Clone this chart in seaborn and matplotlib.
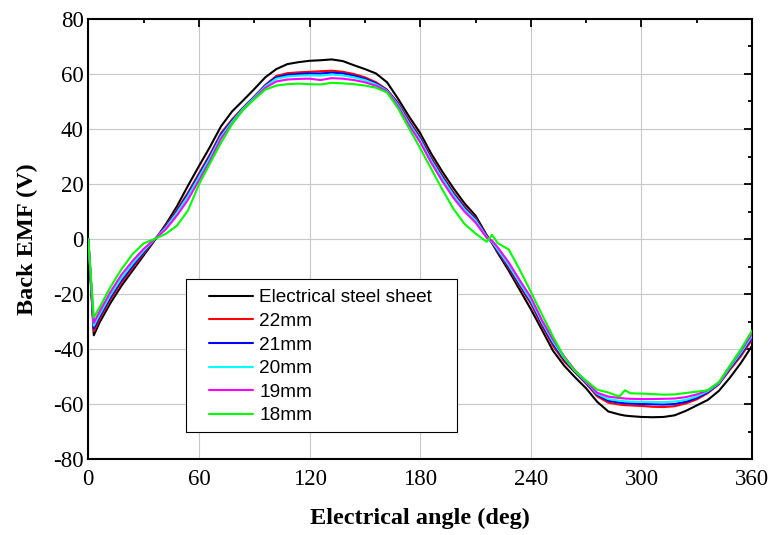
import matplotlib
matplotlib.use("Agg")
import matplotlib.pyplot as plt
from matplotlib.patches import Rectangle
from matplotlib.ticker import MultipleLocator
import numpy as np
import pandas as pd
import seaborn as sns

# Electrical angle samples (deg)
angle = [0, 3, 6, 12, 18, 24, 30, 36, 42, 48, 54, 60, 66, 72, 78, 84, 90, 96,
         102, 108, 114, 120, 126, 132, 138, 144, 150, 156, 162, 168, 174, 180,
         186, 192, 198, 204, 210, 216, 219, 222, 228, 234, 240, 246, 252, 258,
         264, 270, 276, 282, 288, 291, 294, 300, 306, 312, 318, 324, 330, 336,
         342, 348, 354, 360]

# Back EMF (V) per core variant
emf_steel = [0, -35, -30.5, -23.3, -17, -11.5, -6, -0.5, 5.3, 11.8, 19.3, 26.5,
             33.5, 41, 46.4, 50.4, 54.5, 58.8, 61.8, 63.6, 64.3, 64.8, 65, 65.3,
             64.7, 63.2, 61.8, 60.2, 57, 51, 44.5, 38.5, 31, 24.5, 18.5, 13, 8.5,
             1.5, -1.5, -5, -11.5, -18.5, -25.5, -33, -40.6, -46, -50.3, -54.3,
             -59.2, -62.7, -63.8, -64.2, -64.4, -64.7, -64.8, -64.7, -64.1, -62.5,
             -60.5, -58.5, -55.2, -50.4, -45, -38.8]
emf_22 = [0, -33.5, -29.2, -22, -15.8, -10.5, -5.3, -0.3, 4.7, 10.5, 16.8, 23.8,
          30.8, 38.5, 43.5, 47.8, 51.8, 56, 59.3, 60.3, 60.6, 60.8, 61, 61.2,
          60.8, 60, 58.8, 57, 54.3, 49.5, 43, 37, 29.5, 23, 17, 11.8, 7.6, 1.2,
          -1.3, -4.5, -10.5, -17.2, -23.5, -31.5, -38.8, -44.5, -48.5, -52.6,
          -57.2, -59.5, -60.2, -60.4, -60.5, -60.7, -61, -61.1, -60.8, -59.8,
          -58.3, -56, -52.8, -47.5, -42.5, -36.5]
emf_21 = [0, -32.5, -28.4, -21.2, -15, -9.8, -4.8, -0.2, 4.4, 10, 16.2, 23.2,
          30.2, 38, 43, 47.6, 51.6, 55.8, 58.8, 59.7, 60, 60.2, 60.2, 60.5, 60.2,
          59.4, 58.3, 56.6, 54.1, 49.2, 42.5, 36.5, 29, 22.5, 16.5, 11.3, 7.2, 1,
          -1.2, -4.2, -10, -16.6, -22.8, -30.8, -38, -43.8, -48.3, -52.3, -56.7,
          -58.8, -59.5, -59.7, -59.8, -60, -60.1, -60.2, -60, -59.2, -57.8,
          -55.7, -52.6, -47, -41.8, -35.8]
emf_20 = [0, -31.5, -27.6, -20.4, -14.2, -9, -4.3, -0.1, 4.1, 9.5, 15.5, 22.5,
          29.5, 37.3, 42.6, 47.4, 51.4, 55.5, 58.3, 59.1, 59.4, 59.5, 59.4, 59.8,
          59.5, 58.8, 57.8, 56.2, 53.9, 48.8, 42, 36, 28.5, 22, 16, 10.8, 6.8,
          0.8, -1, -3.8, -9.5, -16, -22.2, -30.2, -37.3, -43.2, -48, -52, -56.3,
          -58.2, -58.8, -59, -59.1, -59.2, -59.3, -59.3, -59.1, -58.5, -57.2,
          -55.3, -52.4, -46.6, -41.2, -35.2]
emf_19 = [0, -30.5, -26.5, -19.3, -13, -8, -3.6, 0, 3.5, 8.5, 14.2, 21.3, 28.5,
          36.5, 42, 47, 51, 55, 57.3, 58, 58.2, 58.3, 57.8, 58.5, 58.3, 57.8, 57,
          55.7, 53.7, 48.3, 41.3, 35.2, 27.7, 21, 15, 10, 6, 0.5, -0.6, -3, -8.5,
          -15, -21.2, -29.5, -36.5, -42.6, -47.8, -51.8, -55.9, -57.3, -57.8,
          -58, -58.1, -58.2, -58.2, -58.1, -58, -57.5, -56.5, -55, -52.2, -46.2,
          -40.5, -34.5]
emf_18 = [0, -28.5, -25, -17.5, -11, -5.5, -1.6, 0, 1.9, 4.8, 10.3, 19.8, 27.5,
          35, 41.8, 47, 50.8, 54.3, 55.8, 56.3, 56.5, 56.3, 56.2, 56.8, 56.6,
          56.3, 55.8, 55, 53.3, 47.5, 40.2, 33, 25.5, 18, 11, 5.5, 2, -1, 1.5,
          -1.5, -3.8, -11.2, -19.2, -27.4, -35.4, -43, -48, -51.5, -54.8, -55.8,
          -57.3, -55, -56.1, -56.2, -56.4, -56.6, -56.5, -56, -55.5, -55, -52,
          -46, -40, -33.3]

series_names = ["Electrical steel sheet", "22mm", "21mm", "20mm", "19mm", "18mm"]
series_values = [emf_steel, emf_22, emf_21, emf_20, emf_19, emf_18]
series_colors = ["#000000", "#ff0000", "#0000ff", "#00ffff", "#ff00ff", "#00ff00"]

x_ticks = [0, 60, 120, 180, 240, 300, 360]
y_ticks = [-80, -60, -40, -20, 0, 20, 40, 60, 80]

df = pd.concat(
    [pd.DataFrame({"angle": angle, "emf": vals, "core": name})
     for name, vals in zip(series_names, series_values)],
    ignore_index=True,
)

sns.set_theme(style="white")
plt.rcParams["font.family"] = ["Liberation Serif", "DejaVu Serif"]
plt.rcParams["axes.unicode_minus"] = False
plt.rcParams["text.color"] = "black"
plt.rcParams["axes.labelcolor"] = "black"
plt.rcParams["xtick.color"] = "black"
plt.rcParams["ytick.color"] = "black"

fig = plt.figure(figsize=(7.71, 5.35), dpi=100)
ax = fig.add_axes([0.1145, 0.142, 0.861, 0.8225])

sns.lineplot(
    data=df, x="angle", y="emf", hue="core", hue_order=series_names,
    palette=dict(zip(series_names, series_colors)), estimator=None,
    sort=False, linewidth=1.5, ax=ax, legend=True, zorder=3,
)

ax.set_xlim(0, 360)
ax.set_ylim(-80, 80)
ax.set_xticks(x_ticks)
ax.set_yticks(y_ticks)
ax.xaxis.set_minor_locator(MultipleLocator(30))
ax.yaxis.set_minor_locator(MultipleLocator(10))
ax.set_axisbelow(True)
ax.grid(True, which="major", color="#c8c8c8", linewidth=0.8)

for s in ax.spines.values():
    s.set_visible(True)
    s.set_linewidth(1.5)
    s.set_color("black")

ax.tick_params(which="both", direction="in", top=True, right=True,
               width=1.3, color="black", labelcolor="black")
ax.tick_params(which="major", length=6)
ax.tick_params(which="minor", length=3.2)
ax.tick_params(axis="x", which="major", pad=7, labelsize=16.5)
ax.tick_params(axis="y", which="major", pad=3.4, labelsize=16.5)

ax.set_xlabel("Electrical angle (deg)", fontsize=17.5, fontweight="bold",
              labelpad=13, color="black")
ax.set_ylabel("Back EMF (V)", fontsize=17.5, fontweight="bold", labelpad=11,
              color="black")

# Legend: boxed panel in the lower-left part of the plot
ax.add_patch(Rectangle((0.147, 0.061), 0.408, 0.348, transform=ax.transAxes,
                       facecolor="white", edgecolor="black", linewidth=0.8,
                       zorder=5))
handles, labels = ax.get_legend_handles_labels()
leg = ax.legend(handles, labels, loc="upper left",
                bbox_to_anchor=(0.1819, 0.386), frameon=False,
                borderpad=0, borderaxespad=0, handlelength=2.3,
                handletextpad=0.33, labelspacing=0.33,
                prop={"family": "Liberation Sans", "size": 13.7})
leg.set_zorder(6)
for t in leg.get_texts():
    t.set_color("black")
for h in leg.get_lines():
    h.set_linewidth(1.5)

fig.savefig("out.png", dpi=100)
